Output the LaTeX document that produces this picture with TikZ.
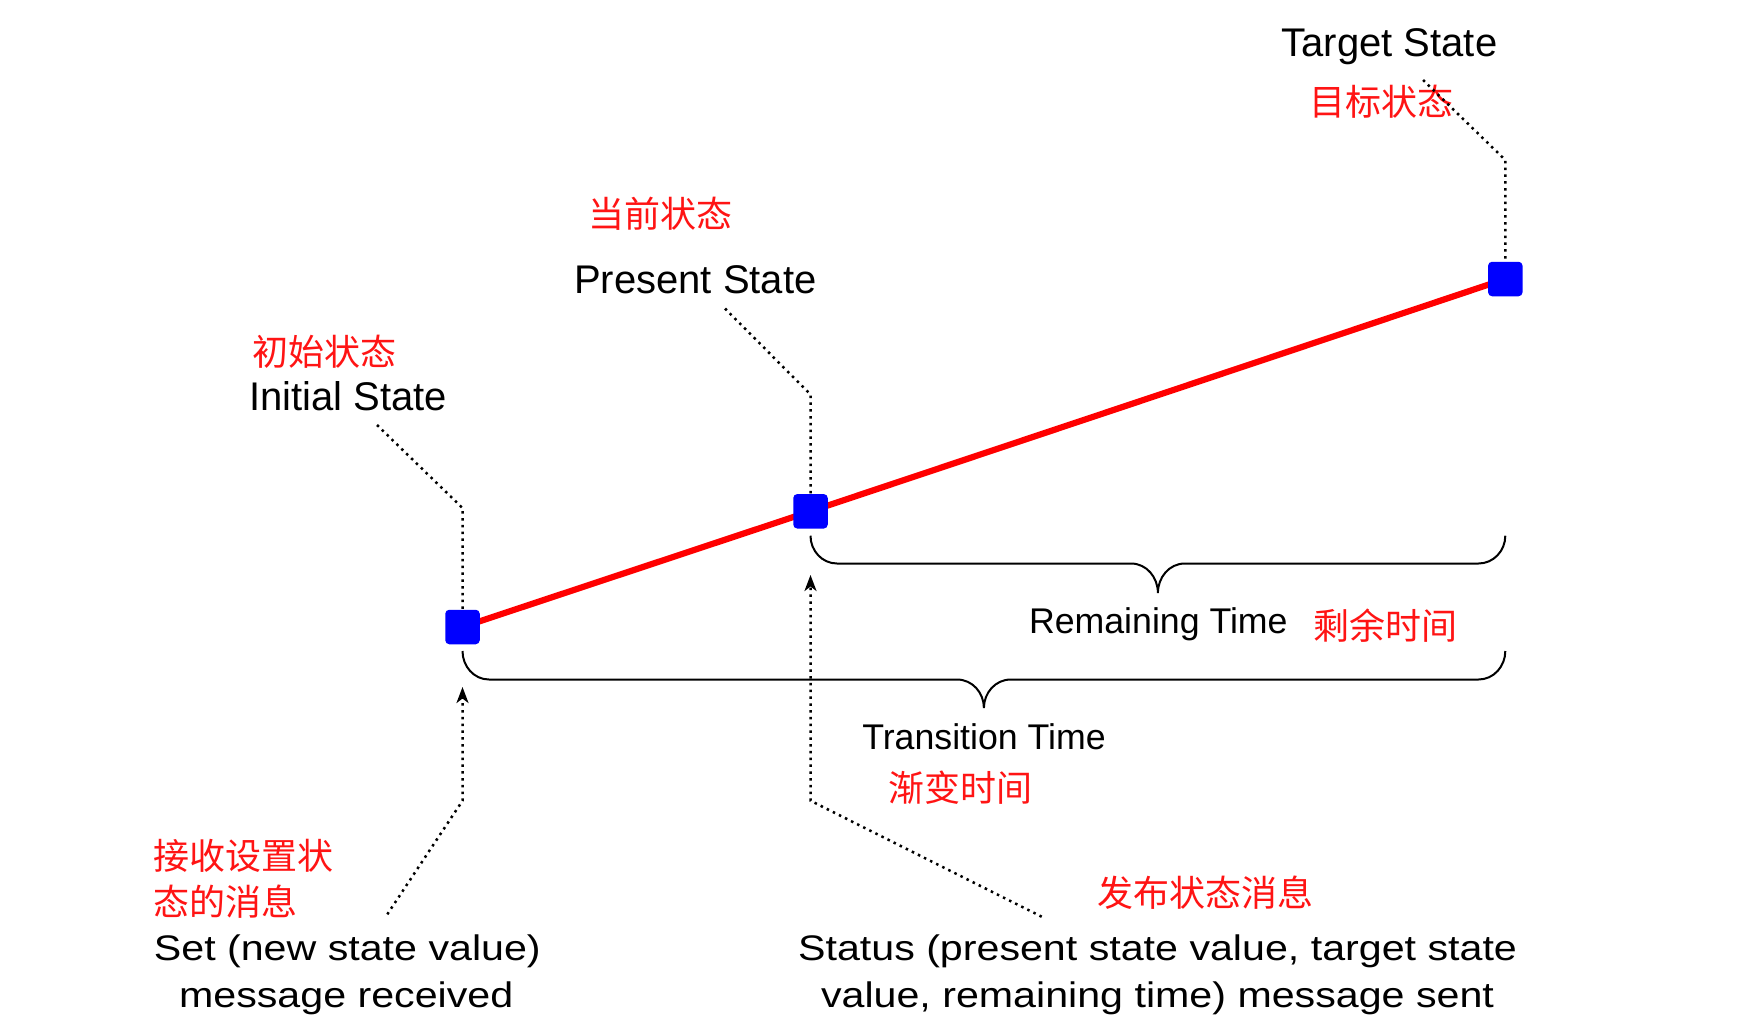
\documentclass[tikz,border=0pt]{standalone}
\usepackage{fontspec}
\setmainfont{Liberation Sans}
\newfontfamily\cjk{Noto Sans CJK SC}
\newfontfamily\widesans[FakeStretch=1.16]{Liberation Sans}
\usetikzlibrary{arrows.meta,backgrounds}
\definecolor{sqblue}{RGB}{0,0,255}
\definecolor{lblred}{RGB}{255,20,20}
\begin{document}
\begin{tikzpicture}[x=1pt,y=-1pt,
  sq/.style={fill=sqblue, rounded corners=4pt, minimum size=34.5pt, inner sep=0pt},
  trend/.style={draw=red, line width=6.2pt},
  leader/.style={line width=2.5pt, dash pattern=on 2.5pt off 4.3pt},
  ptr/.style={leader, -{Stealth[length=16pt,width=12pt,inset=4.5pt]}},
  brace/.style={line width=2pt},
  en/.style={font=\fontsize{40}{48}\selectfont, anchor=base, inner sep=0pt},
  ensm/.style={font=\fontsize{35.7}{43}\selectfont, anchor=base, inner sep=0pt},
  enwide/.style={font=\widesans\fontsize{35.5}{47}\selectfont, anchor=base, inner sep=0pt},
  zh/.style={font=\cjk\fontsize{36}{46}\selectfont, text=lblred, inner sep=0pt},
]
\useasboundingbox (0,0) rectangle (1739,1034);

% state squares
\node[sq] (init) at (462.5,627) {};
\node[sq] (pres) at (810.5,511.3) {};
\node[sq] (targ) at (1505.3,279) {};

\begin{scope}[on background layer]
  \fill[white] (0,0) rectangle (1739,1034);
  \draw[trend] (init.center) -- (pres.center) -- (targ.center);
\end{scope}

% labels
\node[en] (tgtEN) at (1389.5,56.7) {Target State};
\node[zh] (tgtZH) at (1381.3,102) {目标状态};
\node[zh] (preZH) at (660.8,213.7) {当前状态};
\node[en] (preEN) at (695.3,293.3) {Present State};
\node[zh] (iniZH) at (324.7,351.7) {初始状态};
\node[en] (iniEN) at (348,410) {Initial State};

\node[ensm] (remEN) at (1158.3,633.3) {Remaining Time};
\node[zh] (remZH) at (1385.5,625.5) {剩余时间};
\node[ensm] (traEN) at (984,749.3) {Transition Time};
\node[zh] (traZH) at (960.8,788) {渐变时间};

\node[zh, anchor=west] (setZH1) at (153,856) {接收设置状};
\node[zh, anchor=west] (setZH2) at (153,902) {态的消息};
\node[enwide] (setEN1) at (347.3,960) {Set (new state value)};
\node[enwide] (setEN2) at (346.2,1007) {message received};

\node[zh] (stZH) at (1205,892.5) {发布状态消息};
\node[enwide] (stEN1) at (1157.5,960) {Status (present state value, target state};
\node[enwide] (stEN2) at (1157.5,1007.5) {value, remaining time) message sent};

% leader coordinates
\coordinate (tgtLead) at (1423,80);
\coordinate (tgtBend) at (1505.3,160);
\coordinate (preLead) at (725,308.5);
\coordinate (preBend) at (810.5,394.5);
\coordinate (iniLead) at (377,425);
\coordinate (iniBend) at (462.5,508);

\draw[leader] (tgtLead) -- (tgtBend) -- (targ);
\draw[leader] (preLead) -- (preBend) -- (pres);
\draw[leader] (iniLead) -- (iniBend) -- (init);

% message arrows
\coordinate (setSrc) at (387.3,914.3);
\coordinate (setBend) at (462.5,800.7);
\coordinate (setTip) at (462.5,687);
\coordinate (stSrc) at (1041.7,916.7);
\coordinate (stBend) at (810.5,800.7);
\coordinate (stTip) at (810.5,575);

\draw[ptr] (setSrc) -- (setBend) -- (setTip);
\draw[ptr] (stSrc) -- (stBend) -- (stTip);

% braces
\draw[brace] (810.5,535.7) to[out=-90,in=180] (837,563.5) -- (1131,563.5)
  to[out=0,in=90] (1157.9,593) to[out=90,in=180] (1184.8,563.5)
  -- (1478.5,563.5) to[out=0,in=-90] (1505.3,535.7);
\draw[brace] (462.5,651) to[out=-90,in=180] (489,679.5) -- (957,679.5)
  to[out=0,in=90] (983.9,708) to[out=90,in=180] (1010.8,679.5)
  -- (1478.5,679.5) to[out=0,in=-90] (1505.3,651);
\end{tikzpicture}
\end{document}
